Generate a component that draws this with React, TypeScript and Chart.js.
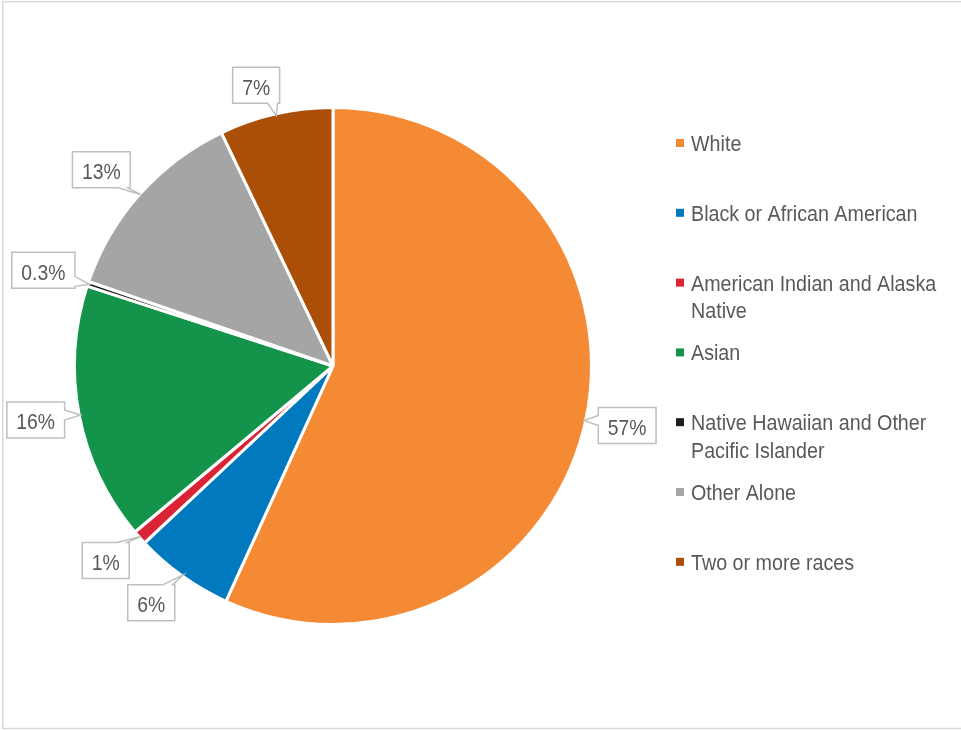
import React, { useEffect, useRef } from "react";
import { Chart, registerables } from "chart.js";

Chart.register(...registerables);

// ---- data ----
const categories: string[] = [
  "White",
  "Black or African American",
  "American Indian and Alaska Native",
  "Asian",
  "Native Hawaiian and Other Pacific Islander",
  "Other Alone",
  "Two or more races",
];
const shares: number[] = [56.8, 6.2, 0.9, 16.1, 0.3, 12.6, 7.1];
const sliceColors: string[] = [
  "#F58A35",
  "#0079BF",
  "#DA2334",
  "#13944A",
  "#1E1E1E",
  "#A5A5A5",
  "#AB4E08",
];

// ---- label placement (offset of callout box centre from slice anchor) ----
const labelOffsets: number[][] = [
  [43, 5],
  [-32, 28],
  [-35, 24],
  [-45, 5],
  [-46, -14],
  [-40, -25],
  [-20, -30],
];

const FONT = '22px "Liberation Sans", Arial, sans-serif';
const LABEL_SX = 0.88;
const LEGEND_SX = 0.895;
const TEXT_COLOR = "#595959";

function fmt(v: number): string {
  return v < 0.5 ? v.toFixed(1) + "%" : Math.round(v) + "%";
}

function textW(ctx: CanvasRenderingContext2D, t: string, sx: number): number {
  return ctx.measureText(t).width * sx;
}

function drawText(
  ctx: CanvasRenderingContext2D,
  t: string,
  x: number,
  y: number,
  align: CanvasTextAlign,
  sx: number
) {
  ctx.save();
  ctx.translate(x, y);
  ctx.scale(sx, 1);
  ctx.textAlign = align;
  ctx.textBaseline = "alphabetic";
  ctx.fillText(t, 0, 0);
  ctx.restore();
}

function wrap(ctx: CanvasRenderingContext2D, text: string, maxW: number, sx: number): string[] {
  const words = text.split(" ");
  const lines: string[] = [];
  let cur = "";
  for (const w of words) {
    const test = cur ? cur + " " + w : w;
    if (cur && textW(ctx, test, sx) > maxW) {
      lines.push(cur);
      cur = w;
    } else {
      cur = test;
    }
  }
  if (cur) lines.push(cur);
  return lines;
}

const framePlugin = {
  id: "frame",
  beforeDraw(chart: any) {
    const ctx = chart.ctx as CanvasRenderingContext2D;
    ctx.save();
    ctx.fillStyle = "#FFFFFF";
    ctx.fillRect(0, 0, chart.width, chart.height);
    ctx.strokeStyle = "#D9D9D9";
    ctx.lineWidth = 1.5;
    ctx.strokeRect(2.7, 1.7, chart.width + 10, 726.8);
    ctx.restore();
  },
};

const calloutPlugin = {
  id: "callouts",
  afterDatasetsDraw(chart: any) {
    const ctx = chart.ctx as CanvasRenderingContext2D;
    const meta = chart.getDatasetMeta(0);
    ctx.save();
    ctx.font = FONT;
    meta.data.forEach((arc: any, i: number) => {
      const p = arc.getProps(["x", "y", "startAngle", "endAngle", "outerRadius"], true);
      const mid = (p.startAngle + p.endAngle) / 2;
      const r = p.outerRadius - 1.5;
      const tx = p.x + Math.cos(mid) * r;
      const ty = p.y + Math.sin(mid) * r;
      const text = fmt(shares[i]);
      const w = textW(ctx, text, LABEL_SX) + 19;
      const h = 36;
      const cx = tx + labelOffsets[i][0];
      const cy = ty + labelOffsets[i][1];
      const l = cx - w / 2, rr = cx + w / 2, t = cy - h / 2, b = cy + h / 2;
      const hw = 5;
      const clamp = (v: number, a: number, z: number) => Math.max(a, Math.min(z, v));
      let side = "";
      if (ty < t) side = "top";
      else if (ty > b) side = "bottom";
      else if (tx < l) side = "left";
      else side = "right";

      ctx.beginPath();
      ctx.moveTo(l, t);
      if (side === "top") {
        const c = clamp(tx, l + hw + 2, rr - hw - 2);
        ctx.lineTo(c - hw, t);
        ctx.lineTo(tx, ty);
        ctx.lineTo(c + hw, t);
      }
      ctx.lineTo(rr, t);
      if (side === "right") {
        const c = clamp(ty, t + hw + 2, b - hw - 2);
        ctx.lineTo(rr, c - hw);
        ctx.lineTo(tx, ty);
        ctx.lineTo(rr, c + hw);
      }
      ctx.lineTo(rr, b);
      if (side === "bottom") {
        const c = clamp(tx, l + hw + 2, rr - hw - 2);
        ctx.lineTo(c + hw, b);
        ctx.lineTo(tx, ty);
        ctx.lineTo(c - hw, b);
      }
      ctx.lineTo(l, b);
      if (side === "left") {
        const c = clamp(ty, t + hw + 2, b - hw - 2);
        ctx.lineTo(l, c + hw);
        ctx.lineTo(tx, ty);
        ctx.lineTo(l, c - hw);
      }
      ctx.closePath();
      ctx.fillStyle = "#FFFFFF";
      ctx.fill();
      ctx.strokeStyle = "#BFBFBF";
      ctx.lineWidth = 1.5;
      ctx.lineJoin = "miter";
      ctx.stroke();

      ctx.fillStyle = TEXT_COLOR;
      drawText(ctx, text, cx, cy + 9.5, "center", LABEL_SX);
    });
    ctx.restore();
  },
};

const legendPlugin = {
  id: "sideLegend",
  afterDraw(chart: any) {
    const ctx = chart.ctx as CanvasRenderingContext2D;
    const labels: string[] = chart.data.labels;
    const colors: string[] = chart.data.datasets[0].backgroundColor;
    ctx.save();
    ctx.font = FONT;
    const x0 = 676;
    const textX = 691;
    const y0 = 143;
    const step = 69.8;
    const lineH = 27.5;
    labels.forEach((lab, i) => {
      const yc = y0 + i * step;
      ctx.fillStyle = colors[i];
      ctx.fillRect(x0, yc - 4, 8, 8);
      ctx.fillStyle = TEXT_COLOR;
      const lines = wrap(ctx, lab, 255, LEGEND_SX);
      lines.forEach((ln, k) => {
        drawText(ctx, ln, textX, yc + 8 + k * lineH, "left", LEGEND_SX);
      });
    });
    ctx.restore();
  },
};

export default function App() {
  const ref = useRef<HTMLCanvasElement | null>(null);
  useEffect(() => {
    if (!ref.current) return;
    const chart = new Chart(ref.current, {
      type: "pie",
      data: {
        labels: categories,
        datasets: [
          {
            data: shares,
            backgroundColor: sliceColors,
            borderColor: "#FFFFFF",
            borderWidth: 3,
          },
        ],
      },
      options: {
        responsive: false,
        animation: false,
        events: [],
        layout: { padding: { left: 73, right: 368, top: 106, bottom: 104 } },
        plugins: {
          legend: { display: false },
          tooltip: { enabled: false },
        },
      },
      plugins: [framePlugin, calloutPlugin, legendPlugin],
    } as any);
    return () => chart.destroy();
  }, []);
  return (
    <div style={{ position: "absolute", left: 0, top: 0, width: 961, height: 730, background: "#fff" }}>
      <canvas ref={ref} width={961} height={730} style={{ display: "block" }} />
    </div>
  );
}
